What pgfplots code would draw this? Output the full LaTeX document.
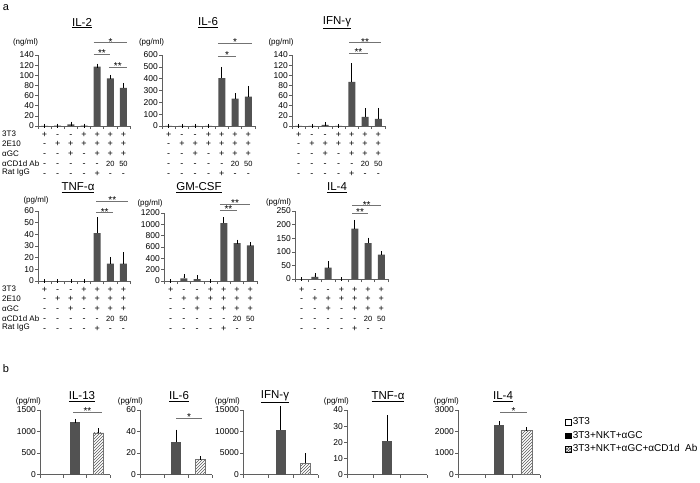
\documentclass[border=0pt]{standalone}
\usepackage{fontspec}
\setmainfont{Liberation Sans}
\usepackage{pgfplots}
\pgfplotsset{compat=1.18}
\usetikzlibrary{patterns}

\definecolor{barc}{RGB}{82,82,82}
\definecolor{axisc}{RGB}{95,95,95}

\newcommand{\sm}[1]{{\fontsize{7.5}{9.75}\selectfont #1}}

\tikzset{
  sig/.style={black!55, line width=0.7pt},
  star/.style={anchor=south, inner sep=0pt, yshift=-2.8pt, font=\fontsize{10}{10}\selectfont, text=black},
  ttl/.style={font=\fontsize{11.5}{12}\selectfont},
  unit/.style={font=\fontsize{8}{9}\selectfont},
  unitb/.style={font=\fontsize{8}{9}\selectfont, anchor=east, inner sep=0pt},
  rowl/.style={font=\fontsize{8}{9}\selectfont, anchor=west, inner sep=0pt},
}

\pgfplotsset{
  panel/.style={
    scale only axis, clip=false, anchor=south west,
    axis x line*=bottom, axis y line*=left,
    axis line style={axisc, line width=0.6pt},
    tick style={axisc, line width=0.6pt},
    tick align=outside, major tick length=3pt,
    ymin=0, enlargelimits=false, scaled y ticks=false,
    yticklabel style={font=\fontsize{8.5}{9}\selectfont, inner sep=1pt},
    /pgf/number format/1000 sep={},
    /pgf/number format/assume math mode=true,
  },
  sevencat/.style={
    panel, xmin=-0.5, xmax=6.5,
    xtick={-0.5,0.5,...,6.5}, xticklabels={},
    extra x ticks={0,1,...,6},
    extra x tick labels={{\strut+\\-\\-\\-\\-},{\strut-\\+\\-\\-\\-},{\strut-\\+\\+\\-\\-},{\strut+\\+\\-\\-\\-},{\strut+\\+\\+\\-\\+},{\strut+\\+\\+\\\sm{20}\\-},{\strut+\\+\\+\\\sm{50}\\-}},
    extra x tick style={major tick length=0pt,
      xticklabel style={align=center, font=\fontsize{9}{9.75}\selectfont,
        inner sep=0pt, anchor=north, yshift=-4pt}},
  },
  threecat/.style={
    panel, xmin=-0.5, xmax=2.5,
    xtick={-0.5,0.5,1.5,2.5}, xticklabels={},
  },
  abar/.style={ybar, bar width=7pt, fill=barc, draw=none},
  bsolid/.style={ybar, bar width=0.4, fill=barc, draw=none},
  bhatch/.style={ybar, bar width=0.4, draw=black!55, line width=0.4pt,
    pattern=north east lines, pattern color=black!65},
  eb/.style={error bars/.cd, y dir=plus, y explicit,
    error bar style={black, line width=0.6pt},
    error mark options={black, line width=0.6pt, mark size=2pt}},
}

\begin{document}
\begin{tikzpicture}

% ---------------- panel a, first row ----------------
\begin{axis}[sevencat, at={(38pt,356pt)}, width=92pt, height=71pt,
  ymax=140, ytick={0,20,...,140}]
\addplot[abar, eb] coordinates {(0,0) +- (0,0) (1,0.5) +- (0,0.3) (2,3) +- (0,1.5)
  (3,0.5) +- (0,0.2) (4,117) +- (0,2) (5,94) +- (0,3) (6,75) +- (0,6)};
\draw[sig] (axis cs:3.73,164) -- (axis cs:6.3,164) node[midway, star] {*};
\draw[sig] (axis cs:3.73,142) -- (axis cs:5.0,142) node[midway, star] {**};
\draw[sig] (axis cs:4.9,116) -- (axis cs:6.25,116) node[midway, star] {**};
\end{axis}

\begin{axis}[sevencat, at={(162pt,356pt)}, width=93pt, height=71pt,
  ymax=600, ytick={0,100,...,600}]
\addplot[abar, eb] coordinates {(0,0) +- (0,0) (1,0) +- (0,0) (2,0) +- (0,0)
  (3,0) +- (0,0) (4,405) +- (0,78) (5,232) +- (0,28) (6,248) +- (0,75)};
\draw[sig] (axis cs:3.7,700) -- (axis cs:6.3,700) node[midway, star] {*};
\draw[sig] (axis cs:3.7,592) -- (axis cs:5.1,592) node[midway, star] {*};
\end{axis}

\begin{axis}[sevencat, at={(292pt,356pt)}, width=93pt, height=71pt,
  ymax=140, ytick={0,20,...,140}]
\addplot[abar, eb] coordinates {(0,0) +- (0,0) (1,0) +- (0,0) (2,2) +- (0,2)
  (3,0) +- (0,0) (4,87) +- (0,33) (5,18) +- (0,13) (6,14) +- (0,18)};
\draw[sig] (axis cs:3.8,164) -- (axis cs:6.2,164) node[midway, star] {**};
\draw[sig] (axis cs:3.8,144) -- (axis cs:5.2,144) node[midway, star] {**};
\end{axis}

% ---------------- panel a, second row ----------------
\begin{axis}[sevencat, at={(38pt,201pt)}, width=92pt, height=70pt,
  ymax=60, ytick={0,10,...,60}]
\addplot[abar, eb] coordinates {(0,0) +- (0,0) (1,0) +- (0,0) (2,0) +- (0,0)
  (3,0) +- (0,0) (4,41) +- (0,12) (5,15) +- (0,4) (6,15) +- (0,8)};
\draw[sig] (axis cs:3.95,68.5) -- (axis cs:6.35,68.5) node[midway, star] {**};
\draw[sig] (axis cs:3.95,58.5) -- (axis cs:5.2,58.5) node[midway, star] {**};
\end{axis}

\begin{axis}[sevencat, at={(164pt,201pt)}, width=93pt, height=68pt,
  ymax=1200, ytick={0,200,...,1200}]
\addplot[abar, eb] coordinates {(0,0) +- (0,0) (1,45) +- (0,35) (2,35) +- (0,30)
  (3,0) +- (0,0) (4,1020) +- (0,70) (5,670) +- (0,25) (6,630) +- (0,15)};
\draw[sig] (axis cs:3.7,1350) -- (axis cs:6.0,1350) node[midway, star] {**};
\draw[sig] (axis cs:3.7,1250) -- (axis cs:5.0,1250) node[midway, star] {**};
\end{axis}

\begin{axis}[sevencat, at={(295pt,203pt)}, width=93pt, height=68pt,
  ymax=250, ytick={0,50,...,250},
  extra x tick style={xticklabel style={yshift=-2pt}}]
\addplot[abar, eb] coordinates {(0,0) +- (0,0) (1,8) +- (0,6) (2,42) +- (0,15)
  (3,0) +- (0,0) (4,185) +- (0,25) (5,132) +- (0,13) (6,90) +- (0,5)};
\draw[sig] (axis cs:3.8,270) -- (axis cs:6.0,270) node[midway, star] {**};
\draw[sig] (axis cs:3.8,243) -- (axis cs:5.0,243) node[midway, star] {**};
\end{axis}

% ---------------- panel b ----------------
\begin{axis}[threecat, at={(40pt,7.5pt)}, width=70pt, height=64.5pt,
  ymax=1500, ytick={0,500,...,1500}]
\addplot[bsolid, eb] coordinates {(1,1210) +- (0,40)};
\addplot[bhatch, eb] coordinates {(2,970) +- (0,60)};
\draw[sig] (axis cs:0.92,1450) -- (axis cs:2.15,1450) node[midway, star] {**};
\end{axis}

\begin{axis}[threecat, at={(140pt,7.5pt)}, width=72pt, height=64.5pt,
  ymax=60, ytick={0,20,40,60}]
\addplot[bsolid, eb] coordinates {(1,30) +- (0,10)};
\addplot[bhatch, eb] coordinates {(2,14) +- (0,1)};
\draw[sig] (axis cs:1.0,52.5) -- (axis cs:2.08,52.5) node[midway, star] {*};
\end{axis}

\begin{axis}[threecat, at={(243pt,7.5pt)}, width=75pt, height=64.5pt,
  ymax=15000, ytick={0,5000,10000,15000}]
\addplot[bsolid, eb] coordinates {(1,10300) +- (0,5200)};
\addplot[bhatch, eb] coordinates {(2,2600) +- (0,1900)};
\end{axis}

\begin{axis}[threecat, at={(347pt,7.5pt)}, width=80pt, height=64.5pt,
  ymax=40, ytick={0,10,...,40}]
\addplot[bsolid, eb] coordinates {(1,21) +- (0,14.5)};
\end{axis}

\begin{axis}[threecat, at={(458pt,7.5pt)}, width=82pt, height=64.5pt,
  ymax=3000, ytick={0,1000,2000,3000},
  legend cell align=left,
  legend style={draw=none, fill=none, at={(1.305,0.907)}, anchor=north west,
    font=\fontsize{10}{11}\selectfont, row sep=1.5pt, inner sep=0pt,
    nodes={inner sep=1.5pt, text height=7pt, text depth=2pt}},
  legend image code/.code={\draw[#1, line width=0.5pt] (0pt,-2.8pt) rectangle (5.6pt,2.8pt);}]
\addlegendimage{draw=black, fill=white}
\addlegendentry{3T3}
\addlegendimage{draw=black, fill=black}
\addlegendentry{3T3+NKT+αGC}
\addlegendimage{draw=black, pattern=crosshatch, pattern color=black!70}
\addlegendentry{3T3+NKT+αGC+αCD1d~ Ab}
\addplot[forget plot, bsolid, eb] coordinates {(1,2300) +- (0,80)};
\addplot[forget plot, bhatch, eb] coordinates {(2,2050) +- (0,50)};
\draw[sig] (axis cs:1.04,2900) -- (axis cs:2.03,2900) node[midway, star] {*};
\end{axis}

% ---------------- text around the panels ----------------
\node[font=\fontsize{11}{12}\selectfont] at (6pt,474pt) {a};
\node[font=\fontsize{11}{12}\selectfont] at (6pt,113pt) {b};

\node[ttl] at (82pt,459pt) {\underline{IL-2}};
\node[ttl] at (208pt,459pt) {\underline{IL-6}};
\node[ttl] at (337pt,459pt) {\underline{IFN-γ}};
\node[ttl] at (78pt,294pt) {\underline{TNF-α}};
\node[ttl] at (199pt,294pt) {\underline{GM-CSF}};
\node[ttl] at (337pt,294pt) {\underline{IL-4}};
\node[ttl] at (82pt,85pt) {\underline{IL-13}};
\node[ttl] at (179pt,85pt) {\underline{IL-6}};
\node[ttl] at (275pt,85pt) {\underline{IFN-γ}};
\node[ttl] at (388pt,85pt) {\underline{TNF-α}};
\node[ttl] at (503pt,85pt) {\underline{IL-4}};

\node[unit] at (25.5pt,440pt) {(ng/ml)};
\node[unit] at (151.5pt,440pt) {(pg/ml)};
\node[unit] at (281pt,440pt) {(pg/ml)};
\node[unit] at (36pt,282pt) {(pg/ml)};
\node[unit] at (150pt,279pt) {(pg/ml)};
\node[unit] at (278.5pt,280pt) {(pg/ml)};
\node[unitb] at (41pt,81pt) {(pg/ml)};
\node[unitb] at (143pt,81pt) {(pg/ml)};
\node[unitb] at (240pt,81pt) {(pg/ml)};
\node[unitb] at (349pt,81pt) {(pg/ml)};
\node[unitb] at (459pt,81pt) {(pg/ml)};

\node[rowl] at (2pt,348pt) {3T3};
\node[rowl] at (2pt,338.25pt) {2E10};
\node[rowl] at (2pt,328.5pt) {αGC};
\node[rowl] at (2pt,318.75pt) {αCD1d Ab};
\node[rowl] at (2pt,309pt) {Rat IgG};
\node[rowl] at (2pt,193pt) {3T3};
\node[rowl] at (2pt,183.25pt) {2E10};
\node[rowl] at (2pt,173.5pt) {αGC};
\node[rowl] at (2pt,163.75pt) {αCD1d Ab};
\node[rowl] at (2pt,154pt) {Rat IgG};

\pgfresetboundingbox
\useasboundingbox (0pt,0pt) rectangle (700pt,482pt);
\end{tikzpicture}
\end{document}
